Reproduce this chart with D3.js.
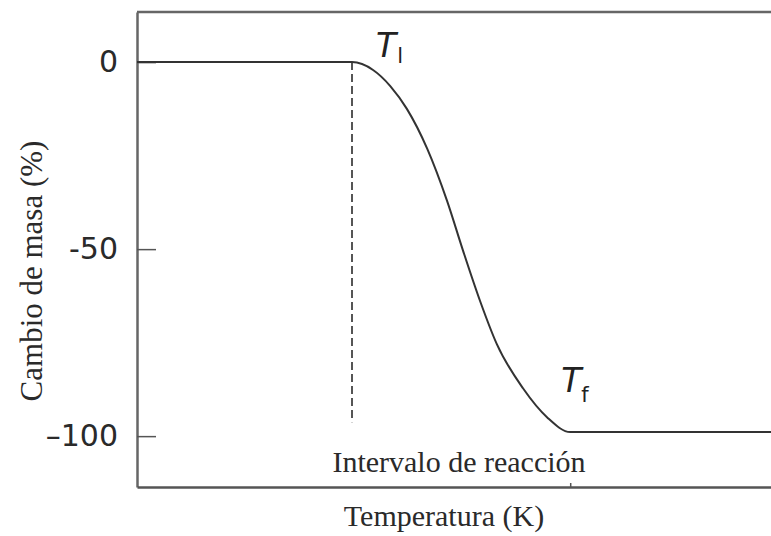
<!DOCTYPE html>
<html>
<head>
<meta charset="utf-8">
<script src="https://cdn.jsdelivr.net/npm/d3@7"></script>
<style>
  html, body { margin: 0; padding: 0; background: #fff; }
  svg { display: block; }
</style>
</head>
<body>
<div id="chart"></div>
<script>
"use strict";

// Curve (temperature in arbitrary units, mass change in %)
const temperature = [0, 33.7, 37.0, 39.7, 42.3, 45.5, 48.6, 51.1, 53.8, 56.4, 60.5, 64.3, 67.9, 100];
const massChange = [0, 0, -2.1, -6.4, -12.5, -23.2, -37.1, -50.4, -64.0, -75.4, -87.2, -95.0, -98.9, -98.9];
const yTicks = [0, -50, -100];
const yTickLabels = ["0", "-50", "\u2013100"];
const tStart = 33.7;
const tEnd = 67.9;
const dashEnd = -96.3;

function _main() {
  const WIDTH = 771;
  const HEIGHT = 536;
  const svg = d3.select("#chart").append("svg").attr("width", WIDTH).attr("height", HEIGHT);

  const data = temperature.map((t, i) => ({ x: t, y: massChange[i] }));

  const xScale = d3.scaleLinear().domain([0, 100]).range([137, 775]);
  const yScale = d3.scaleLinear().domain([-113.6, 13.4]).range([487, 12]);

  addFrame(svg, xScale, yScale);
  addCurve(svg, data, xScale, yScale);
  addLabels(svg, xScale, yScale);
}

function addFrame(svg, xScale, yScale) {
  // top border
  svg
    .append("line")
    .attr("x1", xScale(0))
    .attr("x2", xScale(100))
    .attr("y1", yScale(13.4))
    .attr("y2", yScale(13.4))
    .attr("stroke", "#666")
    .attr("stroke-width", 2.5);

  // left axis, ticks pointing inward
  const yAxis = svg
    .append("g")
    .attr("transform", `translate(${xScale(0)}, 0)`)
    .call(
      d3
        .axisLeft(yScale)
        .tickValues(yTicks)
        .tickFormat((d, i) => yTickLabels[i])
        .tickSizeInner(-19)
        .tickSizeOuter(0)
        .tickPadding(19)
    );
  yAxis.select(".domain").attr("stroke", "#666").attr("stroke-width", 2.5);
  yAxis.selectAll(".tick line").attr("stroke", "#555").attr("stroke-width", 1.5);
  yAxis
    .selectAll(".tick text")
    .attr("font-family", "DejaVu Sans, sans-serif")
    .attr("font-size", 30)
    .attr("fill", "#2a2a2a");

  // bottom axis with one small tick at the end of the reaction
  const xAxis = svg
    .append("g")
    .attr("transform", `translate(0, ${yScale(-113.6)})`)
    .call(d3.axisBottom(xScale).tickValues([tEnd]).tickFormat("").tickSizeInner(-4).tickSizeOuter(0));
  xAxis.select(".domain").attr("stroke", "#555").attr("stroke-width", 2.5);
  xAxis.selectAll(".tick line").attr("stroke", "#555").attr("stroke-width", 1.5);
}

function addCurve(svg, data, xScale, yScale) {
  // dashed marker at the onset temperature
  svg
    .append("line")
    .attr("x1", xScale(tStart))
    .attr("x2", xScale(tStart))
    .attr("y1", yScale(0))
    .attr("y2", yScale(dashEnd))
    .attr("stroke", "#555")
    .attr("stroke-width", 2)
    .attr("stroke-dasharray", "8,4");

  const lineGenerator = d3
    .line()
    .x((d) => xScale(d.x))
    .y((d) => yScale(d.y))
    .curve(d3.curveMonotoneX);
  svg
    .append("path")
    .datum(data)
    .attr("d", lineGenerator)
    .attr("fill", "none")
    .attr("stroke", "#333")
    .attr("stroke-width", 2);
}

function addSubscriptLabel(svg, x, y, sub, subDx, subDy) {
  const t = svg
    .append("text")
    .attr("x", x)
    .attr("y", y)
    .attr("font-family", "DejaVu Sans, sans-serif")
    .attr("fill", "#222");
  t.append("tspan").attr("font-size", 33).attr("font-style", "italic").text("T");
  t.append("tspan")
    .attr("font-size", 21)
    .attr("dx", subDx)
    .attr("dy", subDy)
    .text(sub);
}

function addLabels(svg, xScale, yScale) {
  addSubscriptLabel(svg, xScale(tStart) + 24, 57, "l", 1, 6);
  addSubscriptLabel(svg, xScale(tEnd) - 9, 392, "f", 0, 10);

  const serif = "Liberation Serif, Times New Roman, serif";

  svg
    .append("text")
    .attr("x", 459)
    .attr("y", 472)
    .attr("text-anchor", "middle")
    .attr("font-family", serif)
    .attr("font-size", 30)
    .attr("fill", "#2a2a2a")
    .text("Intervalo de reacción");

  svg
    .append("text")
    .attr("x", 444)
    .attr("y", 526)
    .attr("text-anchor", "middle")
    .attr("font-family", serif)
    .attr("font-size", 30)
    .attr("fill", "#2a2a2a")
    .text("Temperatura (K)");

  svg
    .append("text")
    .attr("transform", "translate(42, 271) rotate(-90)")
    .attr("text-anchor", "middle")
    .attr("font-family", serif)
    .attr("font-size", 31)
    .attr("fill", "#2a2a2a")
    .text("Cambio de masa (%)");
}

_main();
</script>
</body>
</html>
